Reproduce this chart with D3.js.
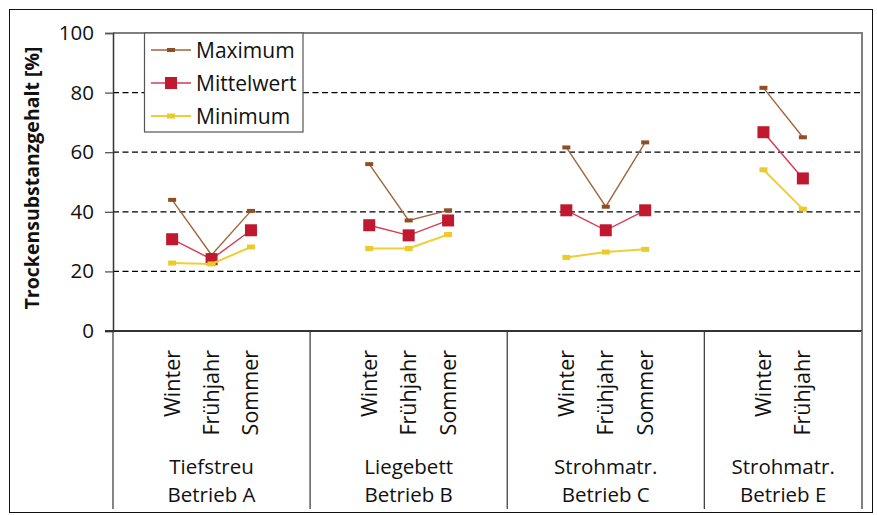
<!DOCTYPE html>
<html>
<head>
<meta charset="utf-8">
<script src="https://cdn.jsdelivr.net/npm/d3@7"></script>
<style>
  html, body { margin: 0; padding: 0; background: #fff; }
  svg { display: block; font-family: "Open Sans", "DejaVu Sans", sans-serif; }
</style>
</head>
<body>
<svg id="chart" width="877" height="515"></svg>
<script>
// Housing systems / farms (group labels, two lines each)
const groupIds = ["A", "B", "C", "E"];
const groupLine1 = ["Tiefstreu", "Liegebett", "Strohmatr.", "Strohmatr."];
const groupLine2 = ["Betrieb A", "Betrieb B", "Betrieb C", "Betrieb E"];

// Sampling seasons, one entry per measured category
const categoryGroup = ["A", "A", "A", "B", "B", "B", "C", "C", "C", "E", "E"];
const categorySeason = ["Winter", "Frühjahr", "Sommer",
                        "Winter", "Frühjahr", "Sommer",
                        "Winter", "Frühjahr", "Sommer",
                        "Winter", "Frühjahr"];

// Dry matter content [%]
const maximum    = [44.0, 25.5, 40.3, 56.0, 37.1, 40.5, 61.6, 41.7, 63.3, 81.6, 65.0];
const mittelwert = [30.8, 24.1, 33.8, 35.5, 32.1, 37.1, 40.5, 33.8, 40.5, 66.7, 51.2];
const minimum    = [22.8, 22.5, 28.2, 27.7, 27.7, 32.4, 24.7, 26.5, 27.4, 54.1, 40.9];

const yTicks = [0, 20, 40, 60, 80, 100];

const svg = d3.select("#chart");
const plot = { left: 113, right: 862, top: 33, bottom: 331 };

// Each group gets an empty slot before and after its seasons
const slotKeys = [];
groupIds.forEach(g => {
  slotKeys.push(g + "|start");
  categorySeason.forEach((s, i) => { if (categoryGroup[i] === g) slotKeys.push(g + "|" + s); });
  slotKeys.push(g + "|end");
});

const x = d3.scaleBand().domain(slotKeys).range([plot.left, plot.right]).paddingInner(0).paddingOuter(0);
const y = d3.scaleLinear().domain([0, 100]).range([plot.bottom, plot.top]);
const cx = i => x(categoryGroup[i] + "|" + categorySeason[i]) + x.bandwidth() / 2;

// Outer frame
svg.append("rect").attr("x", 9.5).attr("y", 9.5).attr("width", 863).attr("height", 503)
  .attr("fill", "none").attr("stroke", "#111").attr("stroke-width", 1);

// Dashed gridlines
svg.append("g").selectAll("line").data(yTicks.filter(t => t > 0 && t < 100)).join("line")
  .attr("x1", plot.left).attr("x2", plot.right)
  .attr("y1", d => y(d)).attr("y2", d => y(d))
  .attr("stroke", "#000").attr("stroke-width", 1.3).attr("stroke-dasharray", "6,3.5");

// Plot frame (top and right)
svg.append("path")
  .attr("d", `M${plot.left},${plot.top}H${plot.right}V${plot.bottom}`)
  .attr("fill", "none").attr("stroke", "#808080").attr("stroke-width", 2);

// Y axis
const yAxis = d3.axisLeft(y).tickValues(yTicks).tickSize(8).tickPadding(11);
const yg = svg.append("g").attr("transform", `translate(${plot.left},0)`).call(yAxis);
yg.select(".domain").attr("stroke", "#333").attr("stroke-width", 1.5);
yg.selectAll(".tick line").attr("stroke", "#555").attr("stroke-width", 1.3);
yg.selectAll(".tick text").attr("font-size", 20.5).attr("fill", "#111")
  .attr("font-family", "Open Sans, sans-serif");

// Y axis title
svg.append("text")
  .attr("transform", `translate(39,178) rotate(-90)`)
  .attr("text-anchor", "middle")
  .attr("font-size", 19.5).attr("font-weight", "bold").attr("fill", "#111")
  .text("Trockensubstanzgehalt [%]");

// X axis baseline
svg.append("line").attr("x1", 105).attr("x2", plot.right)
  .attr("y1", plot.bottom).attr("y2", plot.bottom)
  .attr("stroke", "#333").attr("stroke-width", 2);

// Group separators below the axis
const sepX = groupIds.map(g => x(g + "|start")).concat([x(groupIds[groupIds.length - 1] + "|end") + x.bandwidth()]);
svg.append("g").selectAll("line").data(sepX).join("line")
  .attr("x1", d => d).attr("x2", d => d)
  .attr("y1", plot.bottom).attr("y2", 509)
  .attr("stroke", (d, i) => i === sepX.length - 1 ? "#808080" : "#333")
  .attr("stroke-width", (d, i) => i === sepX.length - 1 ? 2 : 1.2);

// Season labels (rotated)
svg.append("g").selectAll("text").data(categorySeason).join("text")
  .attr("transform", (d, i) => `translate(${cx(i) + 7.5},350) rotate(-90)`)
  .attr("text-anchor", "end")
  .attr("font-size", 21.5).attr("fill", "#111")
  .text(d => d);

// Group labels
const groupCenter = g => {
  const a = x(g + "|start"), b = x(g + "|end") + x.bandwidth();
  return (a + b) / 2;
};
const gl = svg.append("g").selectAll("text").data(groupIds).join("text")
  .attr("text-anchor", "middle").attr("font-size", 20.5).attr("fill", "#111");
gl.append("tspan").attr("x", d => groupCenter(d)).attr("y", 474).text((d, i) => groupLine1[i]);
gl.append("tspan").attr("x", d => groupCenter(d)).attr("y", 502).text((d, i) => groupLine2[i]);

// Series
const series = [
  { name: "Maximum", values: maximum, line: "#a0663a", lw: 1.4, marker: "#8e4f24", mw: 8, mh: 4 },
  { name: "Mittelwert", values: mittelwert, line: "#d43a52", lw: 1.4, marker: "#c0182f", mw: 12, mh: 12 },
  { name: "Minimum", values: minimum, line: "#ecd036", lw: 2, marker: "#ebcb2a", mw: 8, mh: 5 }
];

const lineGen = d3.line().x(d => cx(d.i)).y(d => y(d.v));

series.forEach(s => {
  const g = svg.append("g");
  groupIds.forEach(gid => {
    const pts = s.values.map((v, i) => ({ v, i })).filter(d => categoryGroup[d.i] === gid);
    g.append("path").datum(pts).attr("d", lineGen)
      .attr("fill", "none").attr("stroke", s.line).attr("stroke-width", s.lw);
  });
  g.selectAll("rect").data(s.values.map((v, i) => ({ v, i }))).join("rect")
    .attr("x", d => cx(d.i) - s.mw / 2).attr("y", d => y(d.v) - s.mh / 2)
    .attr("width", s.mw).attr("height", s.mh).attr("fill", s.marker);
});

// Legend
const lg = svg.append("g");
lg.append("rect").attr("x", 144.5).attr("y", 33).attr("width", 158.5).attr("height", 99)
  .attr("fill", "#fff").attr("stroke", "#555").attr("stroke-width", 1.2);
series.forEach((s, k) => {
  const yy = 50 + k * 33;
  lg.append("line").attr("x1", 151).attr("x2", 191).attr("y1", yy).attr("y2", yy)
    .attr("stroke", s.line).attr("stroke-width", s.lw);
  lg.append("rect").attr("x", 171 - s.mw / 2).attr("y", yy - s.mh / 2)
    .attr("width", s.mw).attr("height", s.mh).attr("fill", s.marker);
  lg.append("text").attr("x", 196).attr("y", yy + 7.5)
    .attr("font-size", 21).attr("fill", "#111").text(s.name);
});
</script>
</body>
</html>
